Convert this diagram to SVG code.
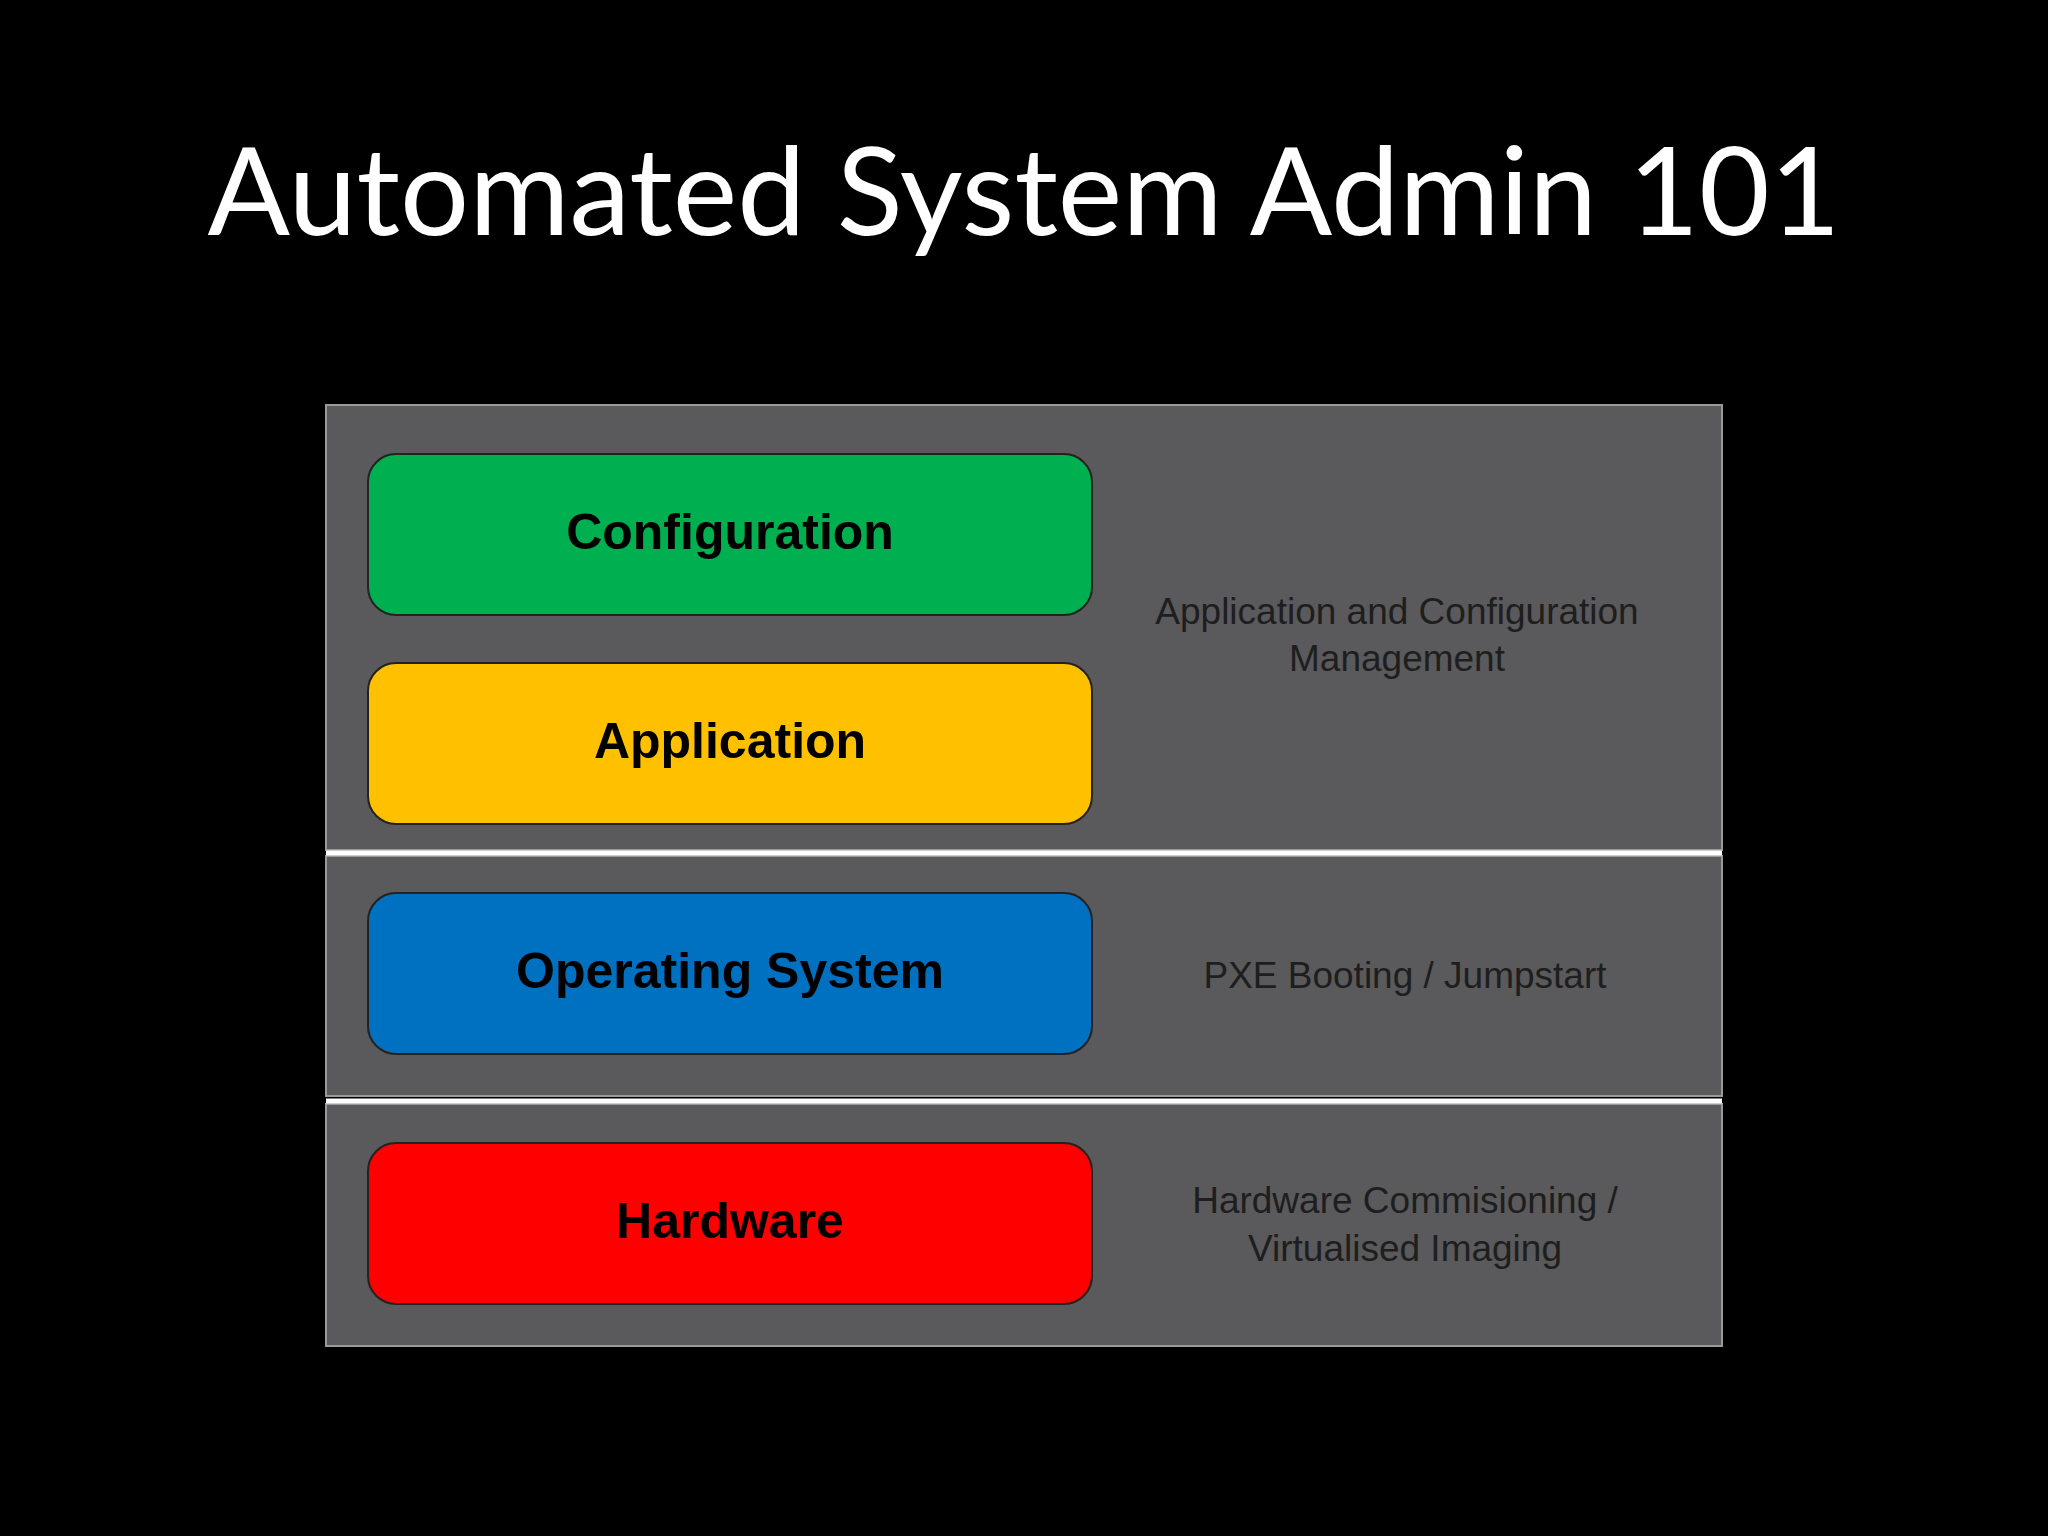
<svg xmlns="http://www.w3.org/2000/svg" width="2048" height="1536" viewBox="0 0 2048 1536">
<style>
.band{fill:#5a595b;stroke:#9a9a9a;stroke-width:2}
.box{stroke:#222;stroke-width:2}
.lbl{font-family:"Liberation Sans",Arial,sans-serif;font-weight:bold;font-size:50px;fill:#000;text-anchor:middle}
.desc{font-family:"Liberation Sans",Arial,sans-serif;font-size:37px;fill:#1e1e1e;text-anchor:middle}
</style>
<rect width="2048" height="1536" fill="#000"/>
<text x="1024" y="235" font-family="Lato,'Open Sans',sans-serif" font-size="122" fill="#fff" text-anchor="middle">Automated System Admin 101</text>
<g id="bands">
<rect class="band" x="326" y="405" width="1396" height="445"/>
<rect class="band" x="326" y="856" width="1396" height="240"/>
<rect class="band" x="326" y="1104" width="1396" height="242"/>
<line x1="326" y1="853" x2="1722" y2="853" stroke="#fff" stroke-width="5"/>
<line x1="326" y1="1101" x2="1722" y2="1101" stroke="#fff" stroke-width="5"/>
</g>
<g id="configuration"><rect class="box" x="368" y="454" width="724" height="161" rx="28" fill="#00b050"/><text class="lbl" x="730" y="549">Configuration</text></g>
<g id="application"><rect class="box" x="368" y="663" width="724" height="161" rx="28" fill="#ffc000"/><text class="lbl" x="730" y="758">Application</text></g>
<g id="os"><rect class="box" x="368" y="893" width="724" height="161" rx="28" fill="#0070c0"/><text class="lbl" x="730" y="988">Operating System</text></g>
<g id="hardware"><rect class="box" x="368" y="1143" width="724" height="161" rx="28" fill="#ff0000"/><text class="lbl" x="730" y="1238">Hardware</text></g>
<g id="desc1"><text class="desc" x="1397" y="624">Application and Configuration</text><text class="desc" x="1397" y="671">Management</text></g>
<g id="desc2"><text class="desc" x="1405" y="988">PXE Booting / Jumpstart</text></g>
<g id="desc3"><text class="desc" x="1405" y="1213">Hardware Commisioning /</text><text class="desc" x="1405" y="1261">Virtualised Imaging</text></g>
<g id="connectors"></g>
</svg>
